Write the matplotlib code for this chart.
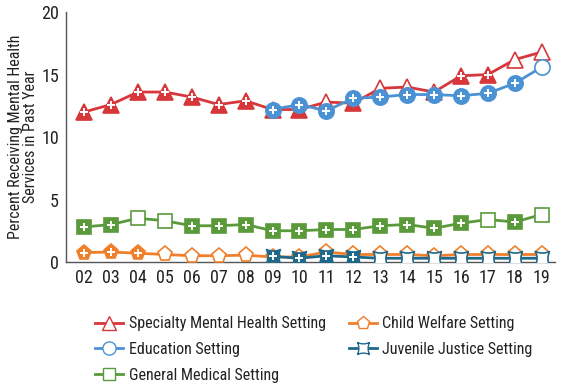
import numpy as np
import matplotlib.pyplot as plt
from matplotlib.path import Path
from matplotlib.lines import Line2D

plt.rcParams['font.family'] = ['Roboto Condensed', 'Archivo Narrow', 'DejaVu Sans']

years = ['02', '03', '04', '05', '06', '07', '08', '09', '10', '11',
         '12', '13', '14', '15', '16', '17', '18', '19']

specialty = [12.0, 12.6, 13.6, 13.6, 13.2, 12.6, 12.9, 12.2, 12.2, 12.8,
             12.7, 13.9, 14.0, 13.6, 14.9, 15.0, 16.2, 16.8]
specialty_sig = [1, 1, 1, 1, 1, 1, 1, 1, 1, 0, 1, 0, 0, 0, 1, 1, 0, 0]

education = [None] * 7 + [12.2, 12.6, 12.1, 13.1, 13.2, 13.4, 13.4, 13.3, 13.5, 14.3, 15.6]
education_sig = [0] * 7 + [1, 1, 1, 1, 1, 1, 1, 1, 1, 1, 0]

general = [2.8, 3.0, 3.5, 3.3, 2.9, 2.9, 3.0, 2.5, 2.5, 2.6,
           2.6, 2.9, 3.0, 2.7, 3.1, 3.4, 3.2, 3.8]
general_sig = [1, 1, 0, 0, 1, 1, 1, 1, 1, 1, 1, 1, 1, 1, 1, 0, 1, 0]

welfare = [0.75, 0.8, 0.7, 0.6, 0.5, 0.5, 0.55, 0.4, 0.4, 0.8,
           0.6, 0.6, 0.6, 0.5, 0.6, 0.6, 0.6, 0.6]
welfare_sig = [1, 1, 1, 0, 0, 0, 0, 0, 0, 0, 0, 0, 0, 0, 0, 0, 0, 0]

justice = [None] * 7 + [0.45, 0.3, 0.5, 0.4, 0.3, 0.3, 0.3, 0.3, 0.3, 0.3, 0.3]
justice_sig = [0] * 7 + [1, 1, 1, 1, 0, 0, 0, 0, 0, 0, 0]

# square with concave sides
c = 0.55
verts = [(-1, -1), (0, -c), (1, -1), (c, 0), (1, 1), (0, c), (-1, 1), (-c, 0), (-1, -1), (-1, -1)]
codes = [Path.MOVETO, Path.CURVE3, Path.CURVE3, Path.CURVE3, Path.CURVE3,
         Path.CURVE3, Path.CURVE3, Path.CURVE3, Path.CURVE3, Path.CLOSEPOLY]
concave = Path(verts, codes)

red = '#d7373b'
blue = '#4b92d4'
green = '#5b9a3b'
orange = '#ef7f2b'
teal = '#1e6889'

fig = plt.figure(figsize=(5.66, 3.89), dpi=100)
ax = fig.add_axes([0.1166, 0.3265, 0.8634, 0.6425])
x = np.arange(len(years))


def draw(vals, sig, color, marker, ms, z):
    pts = [(i, v, s) for i, (v, s) in enumerate(zip(vals, sig)) if v is not None]
    xs = [p[0] for p in pts]
    ys = [p[1] for p in pts]
    ax.plot(xs, ys, color=color, lw=2, zorder=z, solid_capstyle='butt')
    for i, v, s in pts:
        if s:
            ax.plot(i, v, marker=marker, ms=ms, mfc=color, mec=color, mew=1.2, zorder=z + 0.1)
            ax.plot(i, v, marker='+', ms=ms * 0.55, mec='white', mew=1.4, zorder=z + 0.2)
        else:
            ax.plot(i, v, marker=marker, ms=ms, mfc='white', mec=color, mew=1.2, zorder=z + 0.1)


draw(specialty, specialty_sig, red, '^', 11, 2)
draw(welfare, welfare_sig, orange, 'p', 11, 3)
draw(education, education_sig, blue, 'o', 11, 4)
draw(justice, justice_sig, teal, concave, 10, 5)
draw(general, general_sig, green, 's', 9.5, 6)

ax.set_xlim(-0.67, 17.48)
ax.set_ylim(0, 20)
ax.set_yticks([0, 5, 10, 15, 20])
ax.set_xticks(x)
ax.set_xticklabels(years)
ax.tick_params(length=0, labelsize=13, colors='#222222', pad=5)
ax.tick_params(axis='y', pad=5)
for s in ['top', 'right']:
    ax.spines[s].set_visible(False)
for s in ['left', 'bottom']:
    ax.spines[s].set_color('#555555')
    ax.spines[s].set_linewidth(1)
ax.set_ylabel('Percent Receiving Mental Health\nServices in Past Year', fontsize=11.5,
              color='#222222', labelpad=2, linespacing=1.05)

handles = [
    Line2D([], [], color=red, lw=2, marker='^', ms=9.5, mfc='white', mec=red),
    Line2D([], [], color=blue, lw=2, marker='o', ms=9.5, mfc='white', mec=blue),
    Line2D([], [], color=green, lw=2, marker='s', ms=8.5, mfc='white', mec=green),
    Line2D([], [], color=orange, lw=2, marker='p', ms=9.5, mfc='white', mec=orange),
    Line2D([], [], color=teal, lw=2, marker=concave, ms=8.5, mfc='white', mec=teal),
]
labels = ['Specialty Mental Health Setting', 'Education Setting', 'General Medical Setting',
          'Child Welfare Setting', 'Juvenile Justice Setting']
fig.legend(handles, labels, ncol=2, loc='upper left', bbox_to_anchor=(0.168, 0.19),
           frameon=False, fontsize=11.5, handlelength=1.75, handletextpad=0.35,
           columnspacing=1.45, labelspacing=0.68, borderaxespad=0, borderpad=0,
           labelcolor='#222222')

fig.savefig('out.png', dpi=100)
